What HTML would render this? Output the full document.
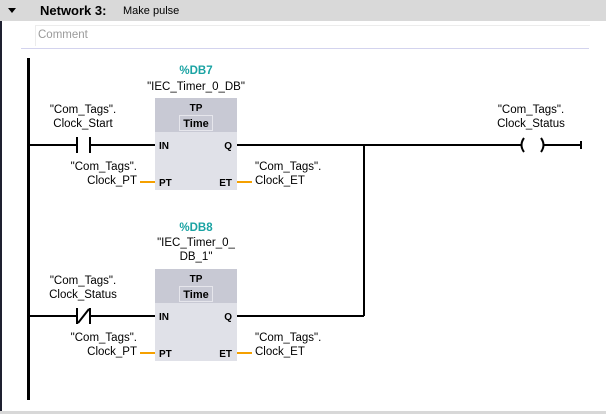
<!DOCTYPE html>
<html><head><meta charset="utf-8"><style>
html,body{margin:0;padding:0;background:#fff;width:606px;height:414px;overflow:hidden}
svg{display:block}
text{font-family:"Liberation Sans",sans-serif;font-size:11.5px;fill:#000}
</style></head><body>
<svg width="606" height="414" viewBox="0 0 606 414">
<rect x="0" y="0" width="606" height="21" fill="#d9d9d9"/>
<rect x="0" y="21" width="2" height="393" fill="#1e2030"/>
<rect x="0" y="411" width="606" height="3" fill="#d8d8d8"/>
<polygon points="8,8 16,8 12,13" fill="#000"/>
<text x="40" y="15" style="font-size:13px;font-weight:bold">Network 3:</text>
<text x="123" y="14" style="font-size:11px">Make pulse</text>
<rect x="35" y="25" width="555" height="1" fill="#ececec"/>
<rect x="35" y="25" width="1" height="21" fill="#ececec"/>
<text x="38" y="38" style="fill:#9a9a9a">Comment</text>
<rect x="21" y="48" width="568" height="1" fill="#d3d3ee"/>
<rect x="27" y="58" width="3" height="342" fill="#000"/>
<g stroke="#000" stroke-width="2" fill="none">
<line x1="28" y1="145" x2="77" y2="145"/>
<line x1="77" y1="137" x2="77" y2="153"/>
<line x1="90" y1="137" x2="90" y2="153"/>
<line x1="90" y1="145" x2="155" y2="145"/>
<line x1="236" y1="145" x2="521" y2="145"/>
<line x1="364" y1="145" x2="364" y2="316"/>
<path d="M524,138 Q519,145 524,152"/>
<path d="M541,138 Q546,145 541,152"/>
<line x1="544" y1="145" x2="581" y2="145"/>
<line x1="581" y1="141" x2="581" y2="149"/>
<line x1="28" y1="316" x2="77" y2="316"/>
<line x1="77" y1="308" x2="77" y2="324"/>
<line x1="90" y1="308" x2="90" y2="324"/>
<line x1="78" y1="323" x2="89" y2="309"/>
<line x1="90" y1="316" x2="155" y2="316"/>
<line x1="236" y1="316" x2="364" y2="316"/>
</g>
<g stroke="#f5a000" stroke-width="2">
<line x1="140" y1="182" x2="155" y2="182"/>
<line x1="236" y1="182" x2="252" y2="182"/>
<line x1="140" y1="353" x2="155" y2="353"/>
<line x1="236" y1="353" x2="252" y2="353"/>
</g>
<g>
<rect x="155" y="98" width="82" height="92" fill="#e0e1e8"/>
<rect x="155" y="98" width="82" height="34" fill="#c8c9d4"/>
<rect x="179.5" y="115.5" width="33" height="15" fill="none" stroke="#e6e6ec"/>
<text x="196" y="111" text-anchor="middle" style="font-weight:bold;font-size:10px">TP</text>
<text x="196" y="127" text-anchor="middle" style="font-weight:bold;font-size:11px">Time</text>
<text x="159" y="149" style="font-weight:bold;font-size:10px">IN</text>
<text x="232" y="149" text-anchor="end" style="font-weight:bold;font-size:10px">Q</text>
<text x="159" y="186" style="font-weight:bold;font-size:10px">PT</text>
<text x="232" y="186" text-anchor="end" style="font-weight:bold;font-size:10px">ET</text>
</g>
<g transform="translate(0,171)">
<rect x="155" y="98" width="82" height="92" fill="#e0e1e8"/>
<rect x="155" y="98" width="82" height="34" fill="#c8c9d4"/>
<rect x="179.5" y="115.5" width="33" height="15" fill="none" stroke="#e6e6ec"/>
<text x="196" y="111" text-anchor="middle" style="font-weight:bold;font-size:10px">TP</text>
<text x="196" y="127" text-anchor="middle" style="font-weight:bold;font-size:11px">Time</text>
<text x="159" y="149" style="font-weight:bold;font-size:10px">IN</text>
<text x="232" y="149" text-anchor="end" style="font-weight:bold;font-size:10px">Q</text>
<text x="159" y="186" style="font-weight:bold;font-size:10px">PT</text>
<text x="232" y="186" text-anchor="end" style="font-weight:bold;font-size:10px">ET</text>
</g>
<text x="196" y="74" text-anchor="middle" style="fill:#1aa3a3;font-weight:bold">%DB7</text>
<text x="196" y="90" text-anchor="middle">"IEC_Timer_0_DB"</text>
<text x="83" y="113" text-anchor="middle">"Com_Tags".</text>
<text x="83" y="127" text-anchor="middle">Clock_Start</text>
<text x="137" y="170" text-anchor="end">"Com_Tags".</text>
<text x="137" y="184" text-anchor="end">Clock_PT</text>
<text x="255" y="170">"Com_Tags".</text>
<text x="255" y="184">Clock_ET</text>
<text x="531" y="113" text-anchor="middle">"Com_Tags".</text>
<text x="531" y="127" text-anchor="middle">Clock_Status</text>
<text x="196" y="231" text-anchor="middle" style="fill:#1aa3a3;font-weight:bold">%DB8</text>
<text x="196" y="246" text-anchor="middle">"IEC_Timer_0_</text>
<text x="196" y="260" text-anchor="middle">DB_1"</text>
<text x="83" y="284" text-anchor="middle">"Com_Tags".</text>
<text x="83" y="298" text-anchor="middle">Clock_Status</text>
<text x="137" y="341" text-anchor="end">"Com_Tags".</text>
<text x="137" y="355" text-anchor="end">Clock_PT</text>
<text x="255" y="341">"Com_Tags".</text>
<text x="255" y="355">Clock_ET</text>
</svg>
</body></html>
